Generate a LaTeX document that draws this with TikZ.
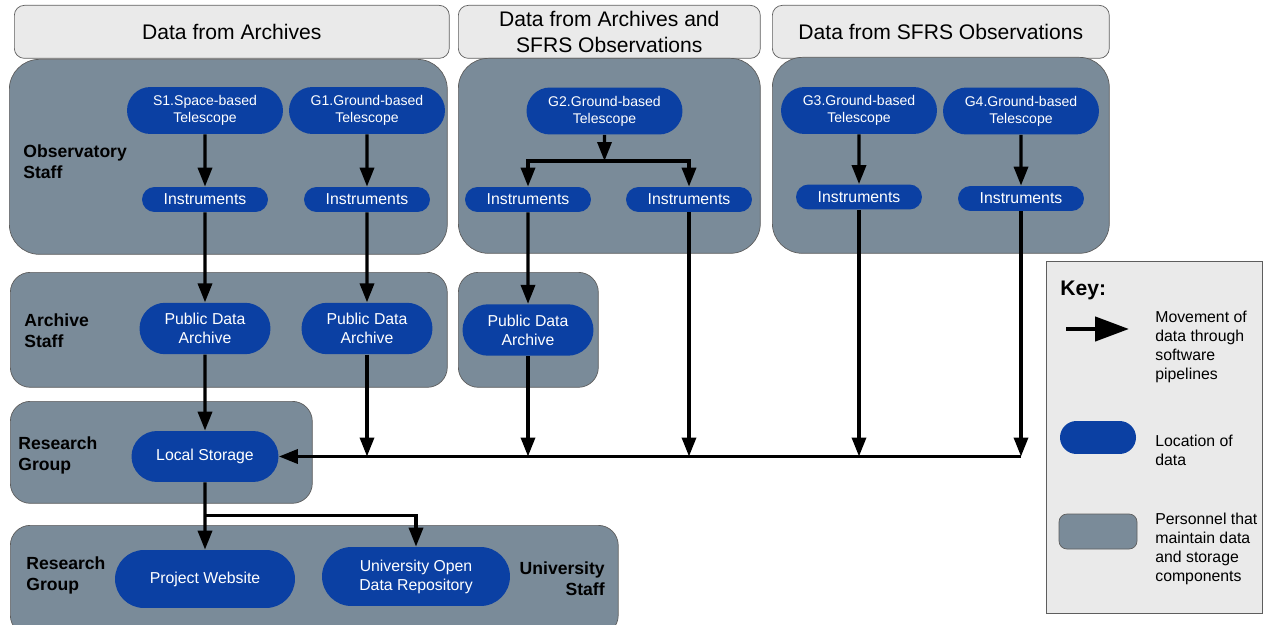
\documentclass[tikz,border=0pt]{standalone}
\usepackage{fontspec}
\setmainfont{Liberation Sans}
\usetikzlibrary{arrows.meta,shapes.misc,positioning}
\definecolor{staffgrey}{HTML}{7A8B99}
\definecolor{datablue}{HTML}{0B40A3}
\definecolor{headgrey}{HTML}{EAEAEA}
\definecolor{edgegrey}{HTML}{5E5E5E}
\tikzstyle{header} = [rectangle, rounded corners=0.2cm, draw=edgegrey, fill=headgrey, anchor=north west, minimum height=1.06cm, align=center, inner sep=0pt, font=\fontsize{12}{14.7}\selectfont]
\tikzstyle{staff} = [rectangle, rounded corners=0.6cm, draw=edgegrey, fill=staffgrey, anchor=north west, inner sep=0pt]
\tikzstyle{scope1} = [rectangle, rounded corners=0.4cm, draw=edgegrey, fill=staffgrey, anchor=north west, inner sep=0pt]
\tikzstyle{telescope} = [rounded rectangle, fill=datablue, text=white, align=center, inner sep=0pt, minimum width=3.12cm, minimum height=0.94cm, font=\fontsize{8}{9.6}\selectfont]
\tikzstyle{instr} = [rounded rectangle, fill=datablue, text=white, inner sep=0pt, minimum width=2.52cm, minimum height=0.5cm, font=\fontsize{9}{10.8}\selectfont]
\tikzstyle{store} = [rounded rectangle, fill=datablue, text=white, align=center, inner sep=0pt, minimum width=2.62cm, minimum height=1.03cm, font=\fontsize{9}{10.8}\selectfont]
\tikzstyle{role} = [anchor=west, align=left, inner sep=0pt, font=\fontsize{10}{12}\selectfont\bfseries]
\tikzstyle{keytext} = [anchor=west, align=left, inner sep=0pt, font=\fontsize{9}{10.9}\selectfont]
\tikzstyle{pipe} = [-{Triangle[length=0.38cm,width=0.28cm]}, line width=0.068cm]
\tikzstyle{keypipe} = [-{Triangle[length=0.68cm,width=0.48cm]}, line width=0.09cm]

\begin{document}
\begin{tikzpicture}[x=0.02cm, y=-0.02cm]
	\useasboundingbox (0,0) rectangle (1265,625);
	
	% column headers
	\node[header, minimum width=8.7cm] (headA) at (14,5) {Data from Archives};
	\node[header, minimum width=6.04cm] (headB) at (458,5) {Data from Archives and\\SFRS Observations};
	\node[header, minimum width=6.74cm] (headC) at (772,5) {Data from SFRS Observations};
	
	% personnel boxes
	\node[staff, minimum width=8.76cm, minimum height=3.9cm] (obsA) at (9,59) {};
	\node[staff, minimum width=6.04cm, minimum height=3.9cm] (obsB) at (458,58) {};
	\node[staff, minimum width=6.74cm, minimum height=3.92cm] (obsC) at (772,57) {};
	\node[scope1, minimum width=8.74cm, minimum height=2.3cm] (archA) at (10,272) {};
	\node[scope1, minimum width=2.8cm, minimum height=2.3cm] (archB) at (458,272) {};
	\node[scope1, minimum width=6.04cm, minimum height=2.04cm] (resA) at (10,401) {};
	\node[scope1, minimum width=12.16cm, minimum height=2.2cm] (resB) at (10,525) {};
	
	\node[role] (obsLab) at (23,161.5) {Observatory\\Staff};
	\node[role] (archLab) at (24,330.5) {Archive\\Staff};
	\node[role] (resLabA) at (18,455) {Research\\Group};
	\node[role] (resLabB) at (26,575.5) {Research\\Group};
	\node[role, anchor=east, align=right] (uniLab) at (605,578.5) {University\\Staff};
	
	% telescopes
	\node[telescope] (s1) at (205,110.5) {S1.Space-based\\Telescope};
	\node[telescope] (g1) at (367,110.5) {G1.Ground-based\\Telescope};
	\node[telescope] (g2) at (604.5,111) {G2.Ground-based\\Telescope};
	\node[telescope] (g3) at (859,110.5) {G3.Ground-based\\Telescope};
	\node[telescope] (g4) at (1021,111) {G4.Ground-based\\Telescope};
	
	% instruments
	\node[instr] (instS1) at (205,199.5) {Instruments};
	\node[instr] (instG1) at (367,199.5) {Instruments};
	\node[instr] (instG2a) at (528,199.5) {Instruments};
	\node[instr] (instG2b) at (689,199.5) {Instruments};
	\node[instr] (instG3) at (859,197) {Instruments};
	\node[instr] (instG4) at (1021,198.5) {Instruments};
	
	% archives and storage
	\node[store] (pdaA) at (205,328.5) {Public Data\\Archive};
	\node[store] (pdaB) at (367,328.5) {Public Data\\Archive};
	\node[store] (pdaC) at (528,330) {Public Data\\Archive};
	\node[store, minimum width=2.94cm, minimum height=1.02cm] (local) at (205,456.5) {Local Storage};
	\node[store, minimum width=3.6cm, minimum height=1.16cm] (web) at (205,579) {Project Website};
	\node[store, minimum width=3.76cm, minimum height=1.18cm] (repo) at (416,576.5) {University Open\\Data Repository};
	
	\coordinate (fork) at (604.5,161);
	\coordinate (jB) at (367,456.5);
	\coordinate (jC) at (528,456.5);
	\coordinate (jD) at (689,456.5);
	\coordinate (jE) at (859,456.5);
	\coordinate (jF) at (1021,456.5);
	\coordinate (split) at (205,515.5);
	
	%arrow
	\draw [pipe] (s1) -- (instS1);
	\draw [pipe] (g1) -- (instG1);
	\draw [pipe] (g2) -- (fork);
	\draw [pipe] (fork) -| (instG2a);
	\draw [pipe] (fork) -| (instG2b);
	\draw [pipe] (g3) -- (instG3);
	\draw [pipe] (g4) -- (instG4);
	\draw [pipe] (instS1) -- (pdaA);
	\draw [pipe] (instG1) -- (pdaB);
	\draw [pipe] (instG2a) -- (pdaC);
	\draw [pipe] (pdaA) -- (local);
	\draw [pipe] (pdaB.south) -- (jB);
	\draw [pipe] (pdaC.south) -- (jC);
	\draw [pipe] (instG2b.south) -- (jD);
	\draw [pipe] (instG3.south) -- (jE);
	\draw [pipe] (instG4.south) -- (jF);
	\draw [pipe] (jF) -- (local.east);
	\draw [pipe] (local) -- (web);
	\draw [pipe] (split) -| (repo);
	
	% key
	\node[rectangle, draw=edgegrey, fill=headgrey, anchor=north west, minimum width=4.32cm, minimum height=7.04cm, inner sep=0pt] (key) at (1046,261) {};
	\node[anchor=west, inner sep=0pt, font=\fontsize{12}{14}\selectfont\bfseries] (keyLab) at (1060,290) {Key:};
	\coordinate (keyS) at (1066,329);
	\coordinate (keyE) at (1129,329);
	\draw [keypipe] (keyS) -- (keyE);
	\node[keytext] (keyPipeLab) at (1155,347) {Movement of\\data through\\software\\pipelines};
	\node[rounded rectangle, fill=datablue, minimum width=1.52cm, minimum height=0.66cm, inner sep=0pt] (keyStore) at (1098,437.5) {};
	\node[keytext] (keyStoreLab) at (1155,450.5) {Location of\\data};
	\node[rectangle, rounded corners=0.16cm, draw=edgegrey, fill=staffgrey, minimum width=1.56cm, minimum height=0.7cm, inner sep=0pt] (keyStaff) at (1098,531.5) {};
	\node[keytext] (keyStaffLab) at (1155,549) {Personnel that\\maintain data\\and storage\\components};
\end{tikzpicture}
\end{document}
